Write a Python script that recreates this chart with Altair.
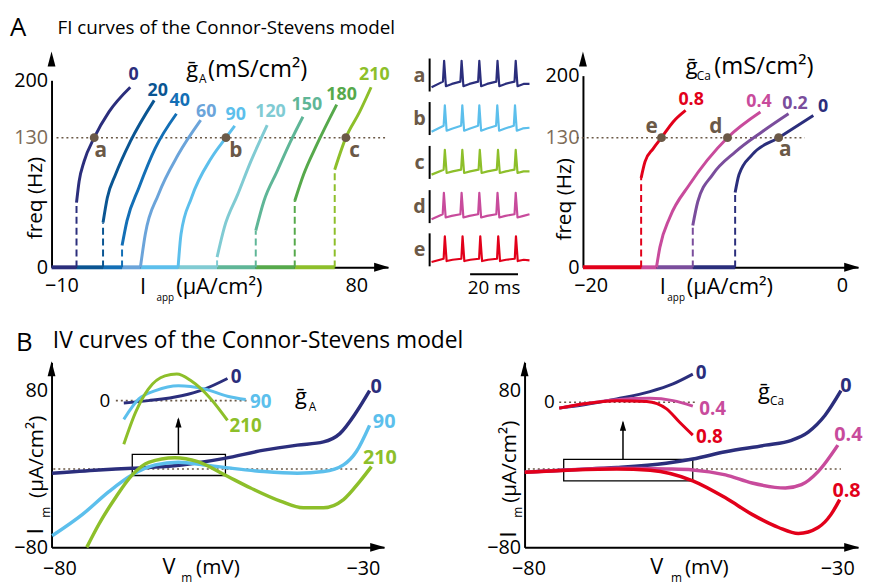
import altair as alt
import pandas as pd

FONT = "Open Sans"
BROWN = "#6b5947"
ONE = pd.DataFrame({"k": [0]})
UP = "M0,0L0.53,2L-0.53,2Z"
RIGHT = "M0,0L-2,-0.6L-2,0.6Z"
SMALL_UP = "M0,0L0.6,2L-0.6,2Z"
COND = {"condition": {"test": "datum.value === 130", "value": "#7d6b58"}, "value": "black"}

# ---------------- data: A1 (gA FI curves) ----------------
gA_levels = ["0", "20", "40", "60", "90", "120", "150", "180", "210"]
gA_colors = ["#2b2e7c", "#0a5592", "#136fb6", "#6ba4da", "#5cbfec", "#80cbd3", "#5fb697", "#56a94b", "#8dbf2a"]
gA_onset_I = [-5.4, 2.7, 8.5, 14.1, 25.6, 37.5, 49.3, 61.2, 73.4]
gA_onset_f = [64.8, 44.9, 21.8, 0, 0, 10.2, 36.7, 66.5, 97.9]
gA_I = [
    [-5.4, -4.6, -3.1, 0.0, 4.5, 11.0],
    [2.7, 4.0, 6.5, 11.0, 18.3],
    [8.5, 10.0, 13.6, 18.6, 25.1],
    [14.1, 15.6, 19.6, 25.6, 32.5],
    [25.6, 26.5, 29.7, 35.7, 40.2, 42.9],
    [37.5, 39.7, 43.8, 47.8, 52.8],
    [49.3, 51.8, 55.8, 59.9, 63.7],
    [61.2, 63.9, 67.9, 74.0],
    [73.4, 76.8, 81.0, 84.5],
]
gA_f = [
    [64.8, 86.3, 106.1, 130, 161.4, 191.5],
    [44.9, 69.7, 93.0, 126.0, 175.5],
    [21.8, 46.6, 79.6, 119.3, 159.2],
    [0, 33.4, 73.1, 112.8, 151.4],
    [0, 33.4, 69.8, 109.4, 130, 144.5],
    [10.2, 39.9, 73.1, 106.2, 145.4],
    [36.7, 66.5, 96.2, 126.0, 155.5],
    [66.5, 93.0, 122.7, 170.3],
    [97.9, 130, 161.4, 191.5],
]
gA_label_I = [12.0, 19.4, 26.1, 34.2, 43.2, 53.8, 64.9, 75.5, 85.5]
gA_label_f = [206, 186.3, 174.3, 161.4, 157.4, 161.4, 169.5, 182.3, 206]
gA_pts = ["a", "b", "c"]
gA_pt_I = [0.0, 40.2, 76.8]
gA_pt_lab_I = [2.0, 43.2, 79.5]
gA_pt_lab_f = [116.8, 116.8, 116.8]
A1_xdom = [-13.02, 89.66]

# ---------------- data: A2 (gCa FI curves) ----------------
gCa_levels = ["0", "0.2", "0.4", "0.8"]
gCa_colors = ["#2b2e7c", "#7a4d9c", "#c84b9c", "#e2001a"]
gCa_onset_I = [-8.5, -11.87, -14.76, -15.98]
gCa_onset_f = [75, 42, 0, 89.6]
gCa_I = [
    [-8.5, -8.19, -7.14, -5.04, -2.28],
    [-11.87, -11.47, -10.29, -8.46, -6.35, -4.25],
    [-14.76, -14.49, -13.70, -12.13, -9.11, -6.49],
    [-15.98, -15.67, -15.02, -14.36, -13.44, -12.44],
]
gCa_f = [
    [75, 93, 113, 130, 155],
    [42, 66, 93, 116, 136.7, 157],
    [0, 20, 50, 83, 130, 159],
    [89.6, 106, 119, 130, 147.8, 160.8],
]
gCa_label_I = [-1.5, -3.73, -6.6, -12.0]
gCa_label_f = [164.5, 168, 170, 173]
gCa_pts = ["a", "d", "e"]
gCa_pt_I = [-5.04, -9.11, -14.36]
gCa_pt_lab_I = [-4.52, -10.03, -15.14]
gCa_pt_lab_f = [117.7, 142.3, 142.3]
A2_xdom = [-20.61, 1.28]

# ---------------- data: spike traces ----------------
trace_names = ["a", "b", "c", "d", "e"]
trace_colors = ["#2b2e7c", "#5cbfec", "#8dbf2a", "#c84b9c", "#e2001a"]
spike_times = [
    [5.1, 12.4, 19.8, 27.4, 35.0],
    [5.4, 12.7, 19.8, 27.3, 34.7],
    [5.4, 12.7, 20.0, 27.6, 35.0],
    [5.0, 12.4, 19.8, 27.4, 35.0],
    [5.4, 12.8, 20.2, 27.7, 35.1],
]
v_start = [13, 10, 13, 12, 13]
v_pre = [30, 28, 28, 27, 23]
v_peak = [93, 90, 88, 92, 91]
v_trough = [16, 13, 18, 17, 16]
v_mid = [23, 20, 23, 22, 20]
v_end = [23, 22, 23, 27, 18]
t_end = 40.9
row_base = [533, 401, 268, 134, 3]

# ---------------- data: B1 (IV, gA) ----------------
b1_levels = ["0", "90", "210"]
b1_colors = ["#2b2e7c", "#5cbfec", "#8dbf2a"]
b1_V = [
    [-81.2, -73.5, -68.0, -59.9, -52.8, -46.3, -40.8, -36.5, -33.8, -31.1, -28.9],
    [-81.2, -76.2, -71.8, -68.0, -64.2, -60.4, -56.1, -51.7, -46.3, -40.8, -36.5, -33.2, -31.1, -28.9],
    [-75.5, -73.5, -70.8, -68.0, -65.3, -61.0, -57.2, -52.8, -48.5, -43.6, -39.8, -36.5, -33.2, -30.5, -28.6],
]
b1_I = [
    [-4.2, -0.9, 0.8, 4.2, 10.9, 19.3, 24.4, 27.7, 36.2, 58.0, 80.0],
    [-68.2, -46.3, -22.8, -5.9, 4.2, 6.9, 4.2, 0.8, -2.6, -4.2, -2.6, 4.2, 17.6, 44.6],
    [-80, -56.4, -29.5, -5.9, 6.9, 11.6, 7.5, -5.9, -19.4, -32.8, -39.6, -39.6, -31.2, -12.6, 2.5],
]
b1_label_V = [-27.8, -26.5, -27.2]
b1_label_I = [83.3, 48.0, 10.9]
b1_in_V = [
    [-68.0, -64.9, -60.7, -57.8, -54.9],
    [-68.0, -66.1, -64.0, -61.1, -57.8, -54.9, -52.6],
    [-68.0, -66.5, -64.9, -62.8, -61.3, -59.5, -57.0, -54.9],
]
b1_in_I = [
    [-0.9, 0.0, 1.9, 4.5, 8.6],
    [-7.3, 0.65, 3.9, 5.8, 4.5, 1.7, 0.4],
    [-17.0, -4.5, 4.5, 9.6, 10.3, 7.7, 0.65, -7.7],
]
b1_in_label_V = [-53.8, -50.7, -52.6]
b1_in_label_I = [9.0, -0.6, -9.8]
b1_box = [-68.0, -52.65, -6.6, 14.9]
b1_arrow = [-60.4, 14.9, 53.0]

# ---------------- data: B2 (IV, gCa) ----------------
b2_levels = ["0", "0.4", "0.8"]
b2_colors = ["#2b2e7c", "#c84b9c", "#e2001a"]
b2_V = [
    [-80.6, -73.7, -65.7, -57.7, -53.4, -48.1, -41.6, -37.4, -34.7, -32.0, -29.4],
    [-80.6, -73.7, -65.7, -57.7, -53.4, -48.1, -43.8, -38.4, -35.8, -33.1, -29.9],
    [-80.6, -73.7, -65.7, -60.3, -53.4, -48.1, -43.8, -39.5, -36.3, -33.1, -31.0, -29.6],
]
b2_I = [
    [-3.2, -0.9, 1.5, 5.9, 10.2, 17.6, 24.4, 29.4, 37.8, 54.7, 80.0],
    [-3.2, -0.9, 0.8, 0.1, -0.9, -6.0, -14.3, -19.4, -16.0, -2.6, 24.4],
    [-3.2, -1.2, 0.1, -1.2, -12.0, -29.4, -46.3, -59.7, -65.8, -59.7, -46.3, -31.2],
]
b2_label_V = [-28.6, -28.2, -28.5]
b2_label_I = [85.0, 34.4, -22.7]
b2_in_V = [
    [-74.3, -70.4, -65.3, -60.1, -56.5, -53.4],
    [-74.3, -70.4, -65.3, -60.1, -56.5, -53.4],
    [-74.3, -70.4, -65.3, -60.6, -57.5, -55.5, -53.4],
]
b2_in_I = [
    [-2.3, -1.0, 1.3, 4.1, 7.1, 10.9],
    [-2.3, -0.6, 1.0, 1.5, 0.6, -1.5],
    [-2.3, -0.6, 0.6, 0.3, -2.6, -7.7, -12.8],
]
b2_in_label_V = [-52.1, -50.3, -50.8]
b2_in_label_I = [11.5, -2.6, -13.5]
b2_box = [-74.3, -53.4, -12.0, 9.9]
b2_arrow = [-64.7, 9.9, 49.6]


# ---------------- helpers ----------------
def txt(s, x, y, size, align="left", baseline="alphabetic", weight="normal", color="black", angle=None):
    kw = dict(text=s, font=FONT, fontSize=size, align=align, baseline=baseline,
              fontWeight=weight, color=color)
    if angle is not None:
        kw["angle"] = angle
    return alt.Chart(ONE).mark_text(**kw).encode(x=alt.value(x), y=alt.value(y))


def ghost(x, y):
    # invisible anchor used to fix the layout bounds
    return alt.Chart(ONE).mark_rule(opacity=0, strokeWidth=0).encode(
        x=alt.value(x), x2=alt.value(x + 2), y=alt.value(y), y2=alt.value(y))


def axis_arrows(w, h):
    return [
        alt.Chart(ONE).mark_point(shape=UP, filled=True, size=225, color="black", opacity=1,
                                  strokeWidth=0).encode(x=alt.value(0), y=alt.value(-1)),
        alt.Chart(ONE).mark_point(shape=RIGHT, filled=True, size=225, color="black", opacity=1,
                                  strokeWidth=0).encode(x=alt.value(w + 1), y=alt.value(h)),
    ]


def mk_axis(values, pad, label_color="black"):
    return alt.Axis(values=values, ticks=False, grid=False, domainColor="black", domainWidth=2,
                    labelFont=FONT, labelFontSize=20, labelPadding=pad, labelColor=label_color,
                    labelOverlap=False, labelFlush=False, title=None)


def curve_table(levels, xs, ys):
    rows = []
    for lev, xl, yl in zip(levels, xs, ys):
        for k, (a, b) in enumerate(zip(xl, yl)):
            rows.append({"level": lev, "x": a, "y": b, "k": k})
    return pd.DataFrame(rows)


def fi_panel(levels, colors, onset_I, onset_f, base_start, Is, fs, lab_I, lab_f,
             pts, pt_I, pt_lab_I, pt_lab_f, xdom, xvals, yrange, dot_x, W, H, extra):
    xs = alt.Scale(domain=xdom, nice=False, zero=False)
    ys = alt.Scale(domain=[0, 130, 200], range=yrange, nice=False, zero=False)
    xa = mk_axis(xvals, 8)
    ya = mk_axis([0, 130, 200], 4, COND)
    cs = alt.Scale(domain=levels, range=colors)

    def X(f):
        return alt.X(f + ":Q", scale=xs, axis=xa)

    def Y(f):
        return alt.Y(f + ":Q", scale=ys, axis=ya)

    C = alt.Color("level:N", scale=cs, legend=None)
    curves = curve_table(levels, Is, fs)
    onset = pd.DataFrame({"level": levels, "x": onset_I, "y": onset_f, "x0": base_start})
    onset["zero"] = 0
    dashed = onset[onset["y"] > 0]
    dot = pd.DataFrame({"x": [dot_x[0]], "x2": [dot_x[1]], "y": [130]})
    labels = pd.DataFrame({"level": levels, "x": lab_I, "y": lab_f})
    marks = pd.DataFrame({"name": pts, "x": pt_I, "y": [130] * len(pts), "lx": pt_lab_I, "ly": pt_lab_f})

    layers = [
        alt.Chart(dot).mark_rule(color=BROWN, strokeDash=[2, 3], strokeWidth=1.6).encode(x=X("x"), x2="x2", y=Y("y")),
        alt.Chart(onset).mark_rule(strokeWidth=4).encode(x=X("x0"), x2="x", y=Y("zero"), color=C),
        alt.Chart(dashed).mark_rule(strokeWidth=2, strokeDash=[7, 4]).encode(x=X("x"), y=Y("zero"), y2="y", color=C),
        alt.Chart(curves).mark_line(interpolate="monotone", strokeWidth=3).encode(
            x=X("x"), y=Y("y"), color=C, detail="level:N", order="k:Q"),
        alt.Chart(marks).mark_circle(size=80, color=BROWN, opacity=1).encode(x=X("x"), y=Y("y")),
        alt.Chart(marks).mark_text(font=FONT, fontSize=21, fontWeight="bold", color=BROWN,
                                   align="center", baseline="middle").encode(x=X("lx"), y=Y("ly"), text="name:N"),
        alt.Chart(labels).mark_text(font=FONT, fontSize=18, fontWeight="bold", align="center",
                                    baseline="middle").encode(x=X("x"), y=Y("y"), text="level:N", color=C),
    ] + axis_arrows(W, H) + extra
    return alt.layer(*layers).properties(width=W, height=H)


def iv_panel(levels, colors, Vs, Is, lab_V, lab_I, in_Vs, in_Is, in_lab_V, in_lab_I,
             box, arrow, xdom, ydom, in_xdom, in_ydom, dot_x, in_dot_x, in_zero_x, W, H, extra):
    xs = alt.Scale(domain=xdom, nice=False, zero=False)
    ys = alt.Scale(domain=ydom, nice=False, zero=False)
    xa = mk_axis([-80, -30], 11)
    ya = mk_axis([-80, 80], 4)
    cs = alt.Scale(domain=levels, range=colors)

    def X(f):
        return alt.X(f + ":Q", scale=xs, axis=xa)

    def Y(f):
        return alt.Y(f + ":Q", scale=ys, axis=ya)

    C = alt.Color("level:N", scale=cs, legend=None)
    curves = curve_table(levels, Vs, Is)
    labels = pd.DataFrame({"level": levels, "x": lab_V, "y": lab_I})
    dot = pd.DataFrame({"x": [dot_x[0]], "x2": [dot_x[1]], "y": [0]})
    boxdf = pd.DataFrame({"x": [box[0]], "x2": [box[1]], "y": [box[2]], "y2": [box[3]]})
    arr = pd.DataFrame({"x": [arrow[0]], "y": [arrow[1]], "y2": [arrow[2] - 2]})
    head = pd.DataFrame({"x": [arrow[0]], "y": [arrow[2]]})
    main = alt.layer(
        alt.Chart(dot).mark_rule(color=BROWN, strokeDash=[2, 3], strokeWidth=1.6).encode(x=X("x"), x2="x2", y=Y("y")),
        alt.Chart(boxdf).mark_rect(fill="white", fillOpacity=0, stroke="black", strokeWidth=1.3).encode(
            x=X("x"), x2="x2", y=Y("y"), y2="y2"),
        alt.Chart(arr).mark_rule(color="black", strokeWidth=1.5).encode(x=X("x"), y=Y("y"), y2="y2"),
        alt.Chart(head).mark_point(shape=SMALL_UP, filled=True, size=110, color="black", opacity=1,
                                   strokeWidth=0).encode(x=X("x"), y=Y("y")),
        alt.Chart(curves).mark_line(interpolate="monotone", strokeWidth=3.5).encode(
            x=X("x"), y=Y("y"), color=C, detail="level:N", order="k:Q"),
        alt.Chart(labels).mark_text(font=FONT, fontSize=20, fontWeight="bold", align="center",
                                    baseline="middle").encode(x=X("x"), y=Y("y"), text="level:N", color=C),
        *axis_arrows(W, H),
        *extra,
    )
    ixs = alt.Scale(domain=in_xdom, nice=False, zero=False)
    iys = alt.Scale(domain=in_ydom, nice=False, zero=False)

    def IX(f):
        return alt.X(f + ":Q", scale=ixs, axis=None)

    def IY(f):
        return alt.Y(f + ":Q", scale=iys, axis=None)

    in_curves = curve_table(levels, in_Vs, in_Is)
    in_labels = pd.DataFrame({"level": levels, "x": in_lab_V, "y": in_lab_I})
    in_dot = pd.DataFrame({"x": [in_dot_x[0]], "x2": [in_dot_x[1]], "y": [0]})
    in_zero = pd.DataFrame({"x": [in_zero_x], "y": [0], "t": ["0"]})
    inset = alt.layer(
        alt.Chart(in_dot).mark_rule(color=BROWN, strokeDash=[2, 3], strokeWidth=1.6).encode(x=IX("x"), x2="x2", y=IY("y")),
        alt.Chart(in_curves).mark_line(interpolate="monotone", strokeWidth=3).encode(
            x=IX("x"), y=IY("y"), color=C, detail="level:N", order="k:Q"),
        alt.Chart(in_labels).mark_text(font=FONT, fontSize=19, fontWeight="bold", align="center",
                                       baseline="middle").encode(x=IX("x"), y=IY("y"), text="level:N", color=C),
        alt.Chart(in_zero).mark_text(font=FONT, fontSize=19, align="right", baseline="middle",
                                     color="black").encode(x=IX("x"), y=IY("y"), text="t:N"),
    )
    return alt.layer(main, inset).resolve_scale(x="independent", y="independent").properties(width=W, height=H)


# ---------------- Panel A1 ----------------
A1_W, A1_H = 340, 217
A1_extra = [
    ghost(-44, -42), ghost(-44, A1_H + 50),
    txt("A", -42, -17, 26),
    txt("FI curves of the Connor-Stevens model", 6, -19, 19),
    txt("freq (Hz)", -9.3, 147, 21, align="center", angle=270),
    txt("ḡ", 136, 25, 22), txt("A", 149, 31, 12), txt("(mS/cm²)", 158, 25, 24),
    txt("I", 89.5, 244, 22), txt("app", 106, 251, 10), txt("(μA/cm²)", 126, 244, 22),
]
A1 = fi_panel(gA_levels, gA_colors, gA_onset_I, gA_onset_f, [A1_xdom[0]] + gA_onset_I[:-1],
              gA_I, gA_f, gA_label_I, gA_label_f, gA_pts, gA_pt_I, gA_pt_lab_I, gA_pt_lab_f,
              A1_xdom, [-10, 80], [217, 86, 28], [-11.5, 89.5], A1_W, A1_H, A1_extra)

# ---------------- Panel A2 ----------------
A2_W, A2_H = 278, 217
A2_extra = [
    txt("freq (Hz)", -12.3, 148.3, 21, align="center", angle=270),
    txt("ḡ", 104, 21.7, 22), txt("Ca", 115, 28, 12), txt("(mS/cm²)", 132.7, 21.7, 24),
    txt("I", 77.5, 244, 22), txt("app", 85.3, 251, 10), txt("(μA/cm²)", 105, 244, 22),
]
A2 = fi_panel(gCa_levels, gCa_colors, gCa_onset_I, gCa_onset_f, gCa_onset_I[1:] + [A2_xdom[0]],
              gCa_I, gCa_f, gCa_label_I, gCa_label_f, gCa_pts, gCa_pt_I, gCa_pt_lab_I, gCa_pt_lab_f,
              A2_xdom, [-20, 0], [217, 86, 23.3], [-21.1, -2.97], A2_W, A2_H, A2_extra)

# ---------------- Panel T (spike traces) ----------------
T_W, T_H = 157, 217
rows = []
for n, ts, vs, vp, vk, vt, vm, ve, base in zip(trace_names, spike_times, v_start, v_pre, v_peak,
                                              v_trough, v_mid, v_end, row_base):
    pts = [(0.0, vs)]
    for j, s in enumerate(ts):
        if j > 0:
            pts.append((ts[j - 1] + 3.4, vm))
        pts += [(s - 0.35, vp), (s + 0.15, vk), (s + 0.9, vt)]
    pts += [(ts[-1] + 3.4, vm), (t_end, ve)]
    for k, (t, v) in enumerate(pts):
        rows.append({"name": n, "t": t, "v": v + base, "k": k})
traces = pd.DataFrame(rows)
bars = pd.DataFrame({"name": trace_names, "t": [-0.8] * 5, "lo": row_base, "hi": [b + 100 for b in row_base],
                     "lt": [-5.0] * 5, "ly": [b + 48 for b in row_base]})
sbar = pd.DataFrame({"t": [16.1], "t2": [36.1], "y": [-21], "tm": [26.1], "ty": [-81], "s": ["20 ms"]})
txs = alt.Scale(domain=[-9.92, 54.96], nice=False, zero=False)
tys = alt.Scale(domain=[0, 651], nice=False, zero=False)
tcs = alt.Scale(domain=trace_names, range=trace_colors)


def TX(f):
    return alt.X(f + ":Q", scale=txs, axis=None)


def TY(f):
    return alt.Y(f + ":Q", scale=tys, axis=None)


T = alt.layer(
    alt.Chart(bars).mark_rule(color="black", strokeWidth=2).encode(x=TX("t"), y=TY("lo"), y2="hi"),
    alt.Chart(traces).mark_line(strokeWidth=2.2, strokeJoin="round").encode(
        x=TX("t"), y=TY("v"), color=alt.Color("name:N", scale=tcs, legend=None), detail="name:N", order="k:Q"),
    alt.Chart(bars).mark_text(font=FONT, fontSize=20, fontWeight="bold", color=BROWN, align="center",
                              baseline="middle").encode(x=TX("lt"), y=TY("ly"), text="name:N"),
    alt.Chart(sbar).mark_rule(color="black", strokeWidth=2).encode(x=TX("t"), x2="t2", y=TY("y")),
    alt.Chart(sbar).mark_text(font=FONT, fontSize=19, align="center", baseline="alphabetic",
                              color="black").encode(x=TX("tm"), y=TY("ty"), text="s:N"),
).properties(width=T_W, height=T_H)

# ---------------- Panel B1 ----------------
B1_W, B1_H = 336, 187
B1_extra = [
    ghost(-44, -40),
    txt("B", -36, -11.3, 26),
    txt("IV curves of the Connor-Stevens model", 1.3, -14.7, 23),
    txt("ḡ", 246, 42, 22), txt("A", 260, 48.7, 12),
    txt("V", 112, 213.7, 22), txt("m", 131, 222, 12), txt("(mV)", 146, 213.7, 21),
    txt("I", -8.7, 173.7, 22, angle=270), txt("m", -2, 157, 12, angle=270),
    txt("(μA/cm²)", -8.7, 137, 21, angle=270),
]
B1 = iv_panel(b1_levels, b1_colors, b1_V, b1_I, b1_label_V, b1_label_I, b1_in_V, b1_in_I,
              b1_in_label_V, b1_in_label_I, b1_box, b1_arrow, [-81.30, -26.52], [-80, 109],
              [-77.125, -35.125], [-57.04, 14.88], [-81.0, -30.5], [-69.0, -52.4], -69.7,
              B1_W, B1_H, B1_extra)

# ---------------- Panel B2 ----------------
B2_W, B2_H = 337, 187
B2_extra = [
    txt("ḡ", 236, 37, 22), txt("Ca", 248, 43, 12),
    txt("V", 127, 213.7, 22), txt("m", 148, 222, 12), txt("(mV)", 162, 213.7, 21),
    txt("I", -8.3, 177, 22, angle=270), txt("m", -3, 157, 12, angle=270),
    txt("(μA/cm²)", -8.3, 142, 21, angle=270),
]
B2 = iv_panel(b2_levels, b2_colors, b2_V, b2_I, b2_label_V, b2_label_I, b2_in_V, b2_in_I,
              b2_in_label_V, b2_in_label_I, b2_box, b2_arrow, [-80.64, -26.63], [-80, 109],
              [-79.72, -27.55], [-56.4, 15.5], [-80.1, -29.4], [-74.3, -52.9], -75.0,
              B2_W, B2_H, B2_extra)

rowA = alt.hconcat(A1, T, A2, spacing=20, bounds="flush").resolve_scale(color="independent")
rowB = alt.hconcat(B1, B2, spacing=142, bounds="flush").resolve_scale(color="independent")
chart = (
    alt.vconcat(rowA, rowB, spacing=6)
    .resolve_scale(color="independent")
    .properties(padding={"left": 0, "top": 0, "right": 0, "bottom": 0})
    .configure_view(stroke=None)
)
chart.save("out.html", embed_options={"renderer": "svg", "actions": False})
